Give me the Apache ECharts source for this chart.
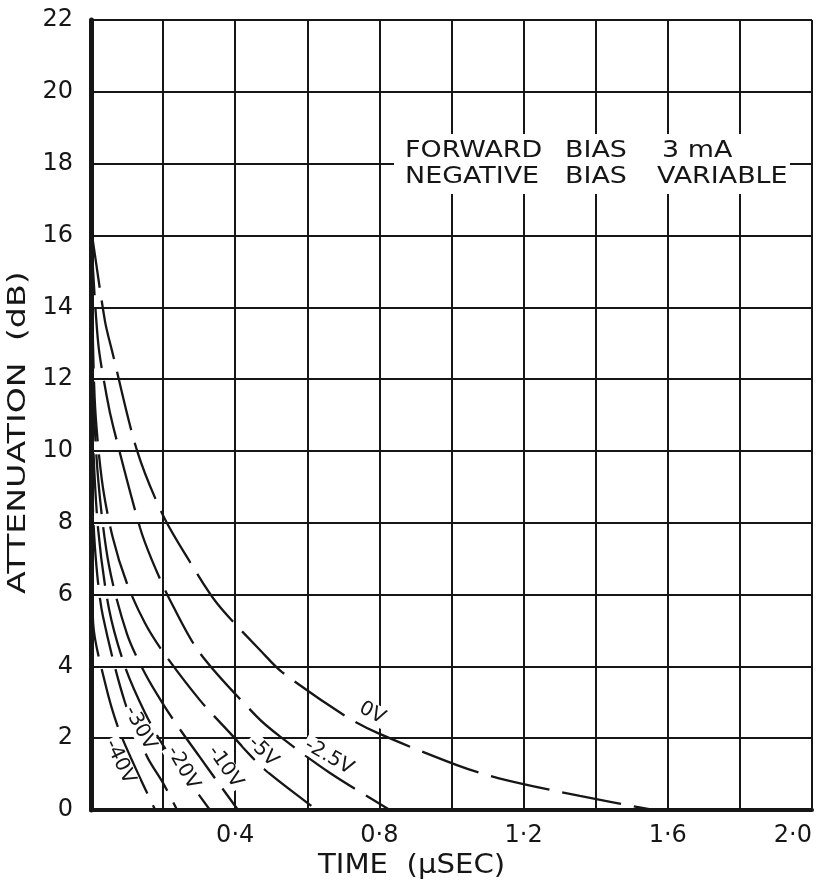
<!DOCTYPE html>
<html><head><meta charset="utf-8">
<script src="https://cdn.jsdelivr.net/npm/echarts@6/dist/echarts.min.js"></script>
<style>html,body{margin:0;padding:0;background:#fff}#c{width:832px;height:892px}</style>
</head><body><div id="c"></div>
<script>
// ---- data (time in µs, attenuation in dB) ----
const curveNames = ['0V', '-2.5V', '-5V', '-10V', '-20V', '-30V', '-40V'];
const t_0V   = [0, 0.003, 0.039, 0.058, 0.128, 0.2, 0.275, 0.35, 0.474, 0.53, 0.71, 0.796, 1.015, 1.129, 1.356, 1.56];
const a_0V   = [16.2, 16, 13.6, 12.8, 10.0, 8.2, 6.9, 5.75, 4.4, 3.84, 2.59, 2.14, 1.25, 0.89, 0.39, 0];
const t_m2_5 = [0, 0.02, 0.044, 0.061, 0.136, 0.169, 0.219, 0.302, 0.46, 0.524, 0.663, 0.829];
const a_m2_5 = [16, 13.0, 11.5, 10.7, 7.86, 6.96, 5.85, 4.37, 2.6, 2.05, 1.03, 0];
const t_m5   = [0, 0.01, 0.03, 0.06, 0.1, 0.15, 0.2, 0.302, 0.386, 0.474, 0.6, 0.627];
const a_m5   = [16, 11.5, 9.2, 7.6, 6.3, 5.2, 4.4, 3.06, 2.14, 1.2, 0.2, 0];
const t_m10  = [0, 0.005, 0.02, 0.05, 0.1, 0.15, 0.2, 0.25, 0.3, 0.35, 0.408];
const a_m10  = [16, 12, 9.2, 6.8, 4.9, 3.8, 2.95, 2.2, 1.5, 0.8, 0];
const t_m20  = [0, 0.005, 0.02, 0.05, 0.094, 0.15, 0.2, 0.25, 0.33];
const a_m20  = [14, 10.5, 7.8, 5.6, 4.0, 2.7, 1.8, 1.1, 0];
const t_m30  = [0, 0.005, 0.015, 0.033, 0.094, 0.155, 0.2, 0.239];
const a_m30  = [12, 8.5, 6.8, 5.4, 3.0, 1.5, 0.75, 0];
const t_m40  = [0, 0.003, 0.006, 0.04, 0.075, 0.122, 0.178];
const a_m40  = [10, 7, 5.2, 3.5, 2.3, 1.2, 0];
const curveT = [t_0V, t_m2_5, t_m5, t_m10, t_m20, t_m30, t_m40];
const curveA = [a_0V, a_m2_5, a_m5, a_m10, a_m20, a_m30, a_m40];
// curve label anchor points (data coords)
const labelT = [0.78, 0.66, 0.477, 0.372, 0.255, 0.136, 0.080];
const labelA = [2.7, 1.48, 1.62, 1.2, 1.17, 2.28, 1.34];
const labelAngle = [-28, -30, -45, -55, -60, -62, -64];
// axes
const xMin = 0, xMax = 2.0, xStep = 0.2;
const yMin = 0, yMax = 22, yStep = 2;
const xLabelEvery = [0.4, 0.8, 1.2, 1.6, 2.0];
const noteWords = [['FORWARD', 405, 140], ['BIAS', 565, 140], ['3 mA', 662, 140],
                   ['NEGATIVE', 405, 166], ['BIAS', 565, 166], ['VARIABLE', 657, 166]];
const xTitle = 'TIME  (µSEC)';
const yTitle = 'ATTENUATION  (dB)';

const FONT = '"DejaVu Sans", sans-serif';
const INK = '#161616';

const series = curveNames.map((nm, i) => ({
  name: nm,
  type: 'line',
  smooth: 0.3,
  showSymbol: false,
  silent: true,
  z: 3,
  lineStyle: { color: INK, width: 2.3, type: [60, 13] },
  data: curveT[i].map((t, k) => [t, curveA[i][k]]),
  markPoint: {
    symbol: 'circle', symbolSize: 1,
    itemStyle: { color: 'rgba(0,0,0,0)' },
    label: {
      show: true, position: 'inside', formatter: nm, rotate: labelAngle[i],
      color: INK, fontFamily: FONT, fontSize: 20, backgroundColor: '#fff', padding: [0, 2]
    },
    data: [{ coord: [labelT[i], labelA[i]] }]
  }
}));

const graphics = [
  { type: 'rect', left: 394, top: 134, shape: { width: 396, height: 60 }, style: { fill: '#fff' }, z: 2 },
  { type: 'text', x: 318, y: 852, z: 4, scaleX: 1.08,
    style: { text: xTitle, font: '27px ' + FONT, fill: INK } },
  { type: 'text', x: 6, y: 594, rotation: Math.PI / 2, z: 4, scaleX: 1.33,
    style: { text: yTitle, font: '25px ' + FONT, fill: INK } }
];
noteWords.forEach(w => graphics.push({
  type: 'text', x: w[1], y: w[2], z: 4, scaleX: 1.17,
  style: { text: w[0], font: '23px ' + FONT, fill: INK }
}));

const chart = echarts.init(document.getElementById('c'), null, { renderer: 'canvas' });
chart.setOption({
  animation: false,
  backgroundColor: '#fff',
  grid: { left: 91, top: 20, right: 20, bottom: 82, containLabel: false, outerBoundsMode: 'none' },
  xAxis: {
    type: 'value', min: xMin, max: xMax, interval: xStep,
    axisLine: { show: true, onZero: false, lineStyle: { color: INK, width: 4 } },
    axisTick: { show: false },
    splitLine: { show: true, lineStyle: { color: INK, width: 2 } },
    axisLabel: {
      margin: 14, color: INK, fontFamily: FONT, fontSize: 24, alignMaxLabel: 'right',
      formatter: v => {
        const r = Math.round(v * 10) / 10;
        if (!xLabelEvery.some(q => Math.abs(q - r) < 1e-6)) return '';
        return r.toFixed(1).replace('.', '·');
      }
    }
  },
  yAxis: {
    type: 'value', min: yMin, max: yMax, interval: yStep,
    axisLine: { show: true, onZero: false, lineStyle: { color: INK, width: 5 } },
    axisTick: { show: false },
    splitLine: { show: true, lineStyle: { color: INK, width: 2 } },
    axisLabel: { margin: 18, color: INK, fontFamily: FONT, fontSize: 24 }
  },
  graphic: graphics,
  series: series
});
</script>
</body></html>
